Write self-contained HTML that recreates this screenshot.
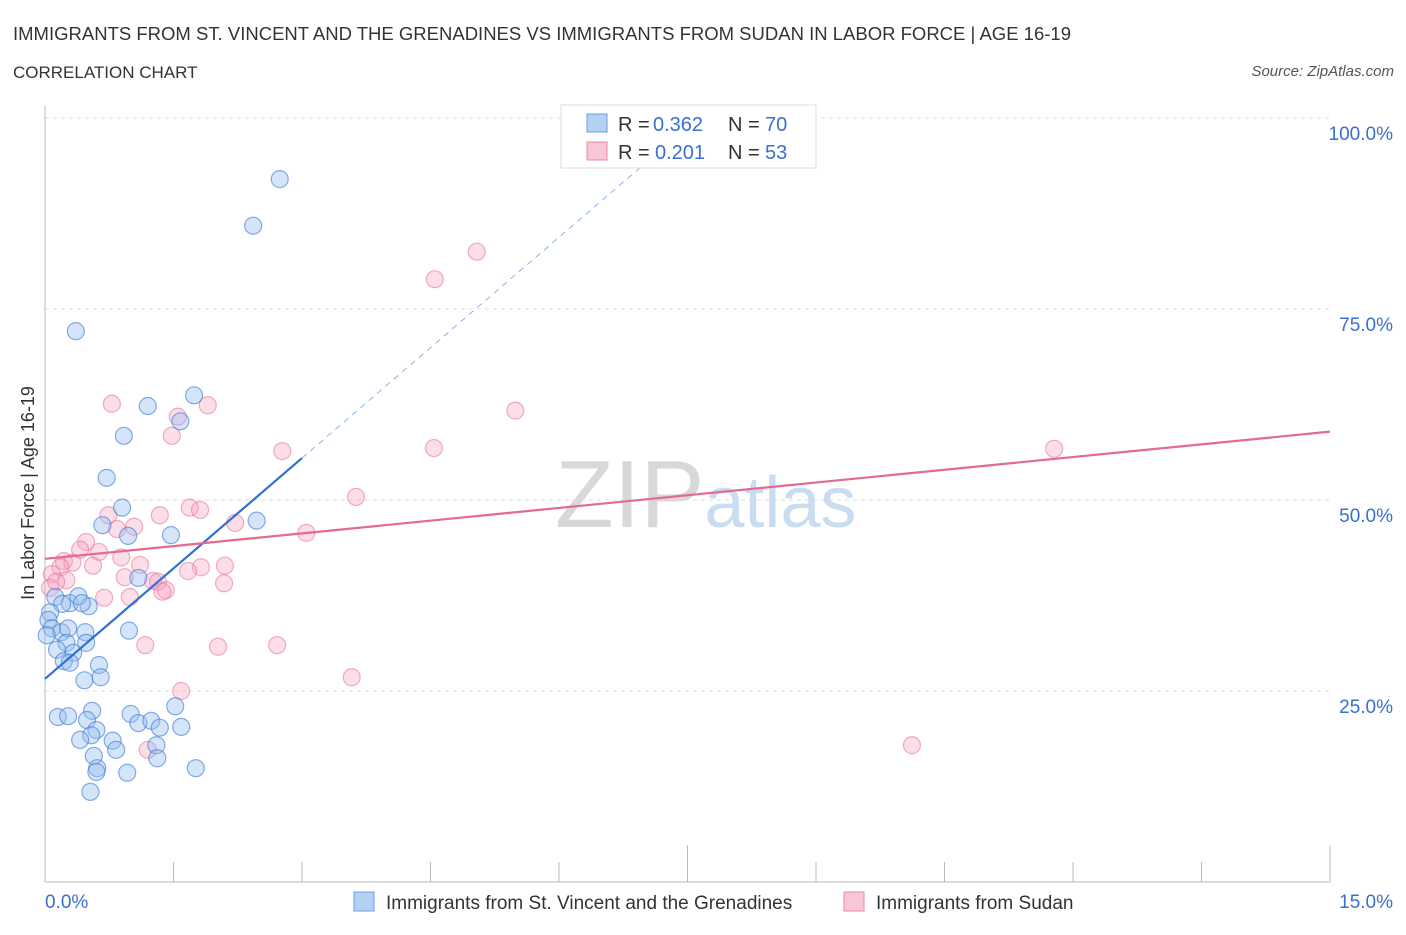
<!DOCTYPE html>
<html><head><meta charset="utf-8"><style>
body{margin:0;background:#fff;font-family:"Liberation Sans",sans-serif;}
svg text{font-family:"Liberation Sans",sans-serif;}
</style></head><body>
<svg id="chart" width="1406" height="930" xmlns="http://www.w3.org/2000/svg">
<text x="13" y="40" font-size="18" fill="#333" textLength="1058" lengthAdjust="spacingAndGlyphs">IMMIGRANTS FROM ST. VINCENT AND THE GRENADINES VS IMMIGRANTS FROM SUDAN IN LABOR FORCE | AGE 16-19</text>
<text x="13" y="78" font-size="17" fill="#333">CORRELATION CHART</text>
<text x="1394" y="76" font-size="15" fill="#555" text-anchor="end" font-style="italic">Source: ZipAtlas.com</text>
<text x="555" y="527" font-size="96" fill="#ddd" font-family="Liberation Serif"><tspan fill="#d8d8d8">ZIP</tspan><tspan fill="#c9dcf0" font-family="Liberation Sans" font-size="72">atlas</tspan></text>
<g id="grid"></g>
<g id="axes"></g>
<g id="marks"></g>
<text transform="translate(34,493) rotate(-90)" font-size="18" fill="#333" text-anchor="middle">In Labor Force | Age 16-19</text>
<g>
<rect x="561" y="105" width="255" height="63" fill="#fff" stroke="#ddd"/>
<rect x="587" y="114" width="20" height="18" fill="#b5d0f5" stroke="#6a9be0"/>
<text x="618" y="131" font-size="20" fill="#333">R =</text>
<text x="653" y="131" font-size="20" fill="#3a6fd0">0.362</text>
<text x="728" y="131" font-size="20" fill="#333">N =</text>
<text x="765" y="131" font-size="20" fill="#3a6fd0">70</text>
<rect x="587" y="142" width="20" height="18" fill="#f9c6d5" stroke="#e88aa8"/>
<text x="618" y="159" font-size="20" fill="#333">R =</text>
<text x="655" y="159" font-size="20" fill="#3a6fd0">0.201</text>
<text x="728" y="159" font-size="20" fill="#333">N =</text>
<text x="765" y="159" font-size="20" fill="#3a6fd0">53</text>
</g>
<g>
<rect x="354" y="892" width="20" height="19" fill="#b5d0f5" stroke="#6a9be0"/>
<text x="386" y="909" font-size="19" fill="#333">Immigrants from St. Vincent and the Grenadines</text>
<rect x="844" y="892" width="20" height="19" fill="#f9c6d5" stroke="#e88aa8"/>
<text x="876" y="909" font-size="19" fill="#333">Immigrants from Sudan</text>
</g>
</svg>
<script>
const blueX=[2.74,2.43,0.36,1.74,1.20,1.58,0.92,0.72,0.90,2.47,0.67,0.97,1.47,1.09,0.12,0.29,0.51,0.39,0.43,0.20,0.06,0.04,0.08,0.19,0.47,0.27,0.02,0.98,0.48,0.25,0.14,0.33,0.22,0.29,0.63,0.46,0.65,1.52,0.15,0.27,0.55,1.00,0.49,1.09,1.24,0.60,1.34,1.59,0.54,0.41,0.79,1.30,0.83,0.57,1.31,0.61,0.60,0.96,1.76,0.53];
const blueY=[92.0,85.9,72.1,63.7,62.3,60.3,58.4,52.9,49.0,47.3,46.7,45.3,45.4,39.8,37.3,36.5,36.1,37.4,36.5,36.4,35.3,34.3,33.2,32.7,32.7,33.2,32.3,32.9,31.3,31.3,30.4,30.0,28.9,28.7,28.4,26.4,26.8,23.0,21.6,21.7,22.4,22.0,21.2,20.8,21.1,19.9,20.2,20.3,19.2,18.6,18.5,17.9,17.3,16.5,16.2,14.9,14.4,14.3,14.9,11.8];
const pinkX=[5.04,4.55,0.78,1.90,1.55,5.49,1.48,2.77,4.54,11.78,3.63,1.69,1.81,1.34,0.74,1.04,2.22,0.84,3.05,0.48,0.41,0.63,0.89,1.11,0.22,0.32,0.56,0.18,1.82,2.10,1.67,0.08,0.93,0.25,1.26,2.09,1.32,0.69,0.99,1.41,1.37,1.17,2.02,2.71,3.58,1.59,1.20,10.12,0.06,0.13];
const pinkY=[82.5,78.9,62.6,62.4,60.9,61.7,58.4,56.4,56.8,56.7,50.4,49.0,48.7,48.0,48.0,46.5,47.0,46.2,45.7,44.5,43.5,43.2,42.5,41.5,42.0,41.8,41.4,41.2,41.2,41.4,40.7,40.3,39.9,39.5,39.4,39.1,39.3,37.2,37.3,38.2,38.0,31.0,30.8,31.0,26.8,25.0,17.3,17.9,38.5,39.3];
const blueTrend=[26.6,9.63];
const pinkTrend=[42.3,1.11];
const yTicks=[25,50,75,100];
const yTickLabels=["25.0%","50.0%","75.0%","100.0%"];
const xTicks=[0,1.5,3,4.5,6,7.5,9,10.5,12,13.5,15];

const NS="http://www.w3.org/2000/svg";
const sx=v=>45+v*1285/15, sy=v=>882-v*7.64;
function mk(tag,attrs,parent){const e=document.createElementNS(NS,tag);for(const k in attrs)e.setAttribute(k,attrs[k]);parent.appendChild(e);return e;}
const grid=document.getElementById('grid'),axes=document.getElementById('axes'),marks=document.getElementById('marks');
yTicks.forEach((t,i)=>{
 const l=mk('line',{x1:45,x2:1330,y1:sy(t),y2:sy(t),stroke:'#ddd','stroke-dasharray':'4,4'},grid);
 
 
 const tx=mk('text',{x:1393,y:sy(t)+22,'font-size':19,fill:'#3a6fd0','text-anchor':'end'},axes);
 tx.textContent=yTickLabels[i];
 
 
});
const xa=mk('line',{x1:45,x2:1330,y1:882,y2:882,stroke:'#bbb'},axes);


const ya=mk('line',{x1:45,x2:45,y1:105,y2:882,stroke:'#bbb'},axes);


xTicks.forEach((t,i)=>{
 const long=(i==5||i==10);
 const l=mk('line',{x1:sx(t),x2:sx(t),y1:long?845:862,y2:882,stroke:'#bbb'},axes);
 
 
});
const x0=mk('text',{x:45,y:908,'font-size':19,fill:'#3a6fd0'},axes);x0.textContent='0.0%';


const x1=mk('text',{x:1393,y:908,'font-size':19,fill:'#3a6fd0','text-anchor':'end'},axes);x1.textContent='15.0%';



pinkX.forEach((x,i)=>{
 const c=mk('circle',{cx:sx(x),cy:sy(pinkY[i]),r:8.5,fill:'rgba(246,160,188,0.35)',stroke:'rgba(232,120,158,0.6)','stroke-width':1.2},marks);
 
 
});
blueX.forEach((x,i)=>{
 const c=mk('circle',{cx:sx(x),cy:sy(blueY[i]),r:8.5,fill:'rgba(150,190,240,0.4)',stroke:'rgba(60,120,210,0.6)','stroke-width':1.2},marks);
 
 
});
const bl=mk('line',{x1:sx(0),y1:sy(blueTrend[0]),x2:sx(3),y2:sy(blueTrend[0]+3*blueTrend[1]),stroke:'#2f6fd6','stroke-width':2.2},marks);


const xe=7.1;
const bd=mk('line',{x1:sx(3),y1:sy(blueTrend[0]+3*blueTrend[1]),x2:sx(xe),y2:sy(blueTrend[0]+xe*blueTrend[1]),stroke:'#8fb3e8','stroke-width':1,'stroke-dasharray':'6,5'},marks);


const pl=mk('line',{x1:sx(0),y1:sy(pinkTrend[0]),x2:sx(15),y2:sy(pinkTrend[0]+15*pinkTrend[1]),stroke:'#e36a93','stroke-width':2.2},marks);


</script>
</body></html>
